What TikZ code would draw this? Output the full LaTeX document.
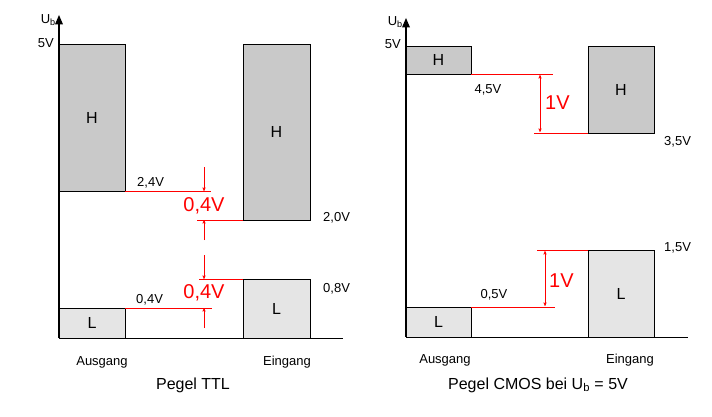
\documentclass[tikz,border=0pt]{standalone}
\usepackage{fontspec}
\setmainfont{Liberation Sans}
\usetikzlibrary{arrows,positioning}

\tikzset{
  hibox/.style={draw, fill=gray!42, semithick},
  lobox/.style={draw, fill=gray!20, semithick},
  lvl/.style={red, thin},
  redarr/.style={red, thin, ->, >=stealth'},
  lab/.style={font=\fontsize{13}{15}\selectfont, inner sep=1pt},
  big/.style={font=\fontsize{20}{22}\selectfont, red, inner sep=1pt},
  hl/.style={font=\fontsize{16}{18}\selectfont}
}

\begin{document}
\begin{tikzpicture}[x=1pt, y=-1pt]
  \useasboundingbox (0,0) rectangle (712,417);

  % Pegel TTL
  \draw[very thick, -triangle 45] (59,338) -- (59,15) coordinate (ax1);
  \node[lab, left] at (57,20) {U\textsubscript{b}};
  \node[lab, left] at (55,43) {5V};
  \draw (59,338) -- (343,338);
  \draw[hibox] (59,44) rectangle node[hl] {H} (125,191) coordinate (oh1);
  \draw[lobox] (59,308) coordinate (ol1) rectangle node[hl] {L} (125,338);
  \draw[hibox] (243,44) rectangle node[hl] {H} (310,220);
  \draw[lobox] (243,279) rectangle node[hl] {L} (310,338);

  \coordinate (a24) at (211,191);
  \coordinate (a20) at (197,220);
  \coordinate (a08) at (199,279);
  \coordinate (a04) at (212,308);
  \draw[lvl] (125,191) -- (a24);
  \draw[lvl] (a20) -- (243,220);
  \draw[lvl] (a08) -- (243,279);
  \draw[lvl] (125,308) -- (a04);
  \node[lab, above right] at (136,189) {2,4V};
  \node[lab, above right] at (135,306) {0,4V};
  \node[lab, right] at (322,218) {2,0V};
  \node[lab, right] at (322,289) {0,8V};

  \draw[redarr] (204,167) -- (204,191);
  \draw[redarr] (204,240) -- (204,220);
  \draw[redarr] (204,255) -- (204,279);
  \draw[redarr] (204,328) -- (204,308);
  \node[big] at (204,206) {0,4V};
  \node[big] at (204,293) {0,4V};

  \node[lab] at (102,362) {Ausgang};
  \node[lab] at (287,362) {Eingang};
  \node[hl] at (193,385) {Pegel TTL};

  % Pegel CMOS
  \draw[very thick, -triangle 45] (406,337) -- (406,18) coordinate (ax2);
  \node[lab, left] at (404,22) {U\textsubscript{b}};
  \node[lab, left] at (402,44) {5V};
  \draw (406,337) -- (688,337);
  \draw[hibox] (406,46) rectangle node[hl] {H} (471,74);
  \draw[lobox] (406,307) rectangle node[hl] {L} (471,337);
  \draw[hibox] (588,46) rectangle node[hl] {H} (654,133);
  \draw[lobox] (588,250) rectangle node[hl] {L} (654,337);

  \draw[lvl] (471,74) -- (553,74);
  \draw[lvl] (534,133) -- (588,133);
  \draw[lvl] (537,250) -- (588,250);
  \draw[lvl] (471,307) -- (555,307);
  \draw[redarr, <->] (540,75) -- (540,132);
  \draw[redarr, <->] (545,251) -- (545,306);
  \node[big, right] at (544,103) {1V};
  \node[big, right] at (548,281) {1V};

  \node[lab] at (488,90) {4,5V};
  \node[lab] at (494,295) {0,5V};
  \node[lab, right] at (663,142) {3,5V};
  \node[lab, right] at (663,248) {1,5V};

  \node[lab] at (445,360) {Ausgang};
  \node[lab] at (630,360) {Eingang};
  \node[hl] at (538,385) {Pegel CMOS bei U\textsubscript{b} = 5V};
\end{tikzpicture}
\end{document}
